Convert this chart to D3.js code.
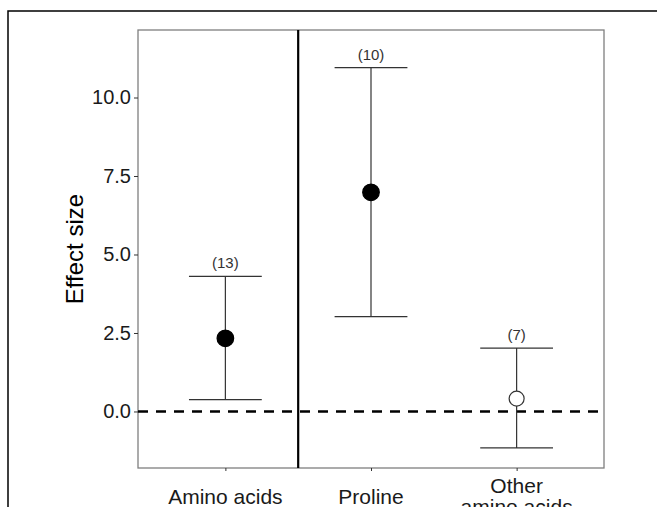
<!DOCTYPE html>
<html>
<head>
<meta charset="utf-8">
<script src="https://cdn.jsdelivr.net/npm/d3@7"></script>
<style>
  body { margin: 0; background: #fff; }
  text { font-family: "Liberation Sans", Arial, sans-serif; }
</style>
</head>
<body>
<svg id="chart" width="657" height="507"></svg>
<script>
// data
const categories = ["Amino acids", "Proline", "Other\namino acids"];
const means = [2.33, 6.98, 0.41];
const lower = [0.38, 3.02, -1.16];
const upper = [4.30, 10.95, 2.02];
const counts = ["(13)", "(10)", "(7)"];
const filled = [true, true, false];
const yTicks = [0, 2.5, 5, 7.5, 10];

const svg = d3.select("#chart");

// outer frame
svg.append("rect")
  .attr("x", 8).attr("y", 11)
  .attr("width", 700).attr("height", 600)
  .attr("fill", "none")
  .attr("stroke", "#000")
  .attr("stroke-width", 1.5);

const pLeft = 138, pRight = 604, pTop = 30, pBottom = 468;

// discrete positions 1..3 with ggplot-style 0.6 expansion
let xScale = d3.scaleLinear()
  .domain([0.4, 3.6])
  .range([pLeft, pRight]);

let yScale = d3.scaleLinear()
  .domain([-1.8, 12.15])
  .range([pBottom, pTop]);

const g = svg.append("g");

// panel border
g.append("rect")
  .attr("x", pLeft).attr("y", pTop)
  .attr("width", pRight - pLeft).attr("height", pBottom - pTop)
  .attr("fill", "none")
  .attr("stroke", "#7f7f7f")
  .attr("stroke-width", 1.3);

// y axis
let yAxis = d3.axisLeft(yScale)
  .tickValues(yTicks)
  .tickFormat(d3.format(".1f"))
  .tickSize(4)
  .tickPadding(3);

let yG = g.append("g").attr("transform", `translate(${pLeft},0)`).call(yAxis);
yG.select(".domain").remove();
yG.selectAll(".tick line").attr("stroke", "#333");
yG.selectAll(".tick text")
  .attr("font-size", 20)
  .attr("fill", "#1a1a1a")
  .style("font-family", "Liberation Sans, Arial, sans-serif");

// x axis ticks
let xAxis = d3.axisBottom(xScale)
  .tickValues([1, 2, 3])
  .tickSize(3)
  .tickFormat("");

let xG = g.append("g").attr("transform", `translate(0,${pBottom})`).call(xAxis);
xG.select(".domain").remove();
xG.selectAll(".tick line").attr("stroke", "#333");

// x labels (multi-line)
categories.forEach((c, i) => {
  let lines = c.split("\n");
  let t = g.append("text")
    .attr("x", xScale(i + 1))
    .attr("text-anchor", "middle")
    .attr("font-size", 21)
    .attr("fill", "#1a1a1a");
  let y0 = lines.length > 1 ? 493 : 504;
  lines.forEach((l, j) => {
    t.append("tspan")
      .attr("x", xScale(i + 1))
      .attr("y", y0 + j * 21)
      .text(l);
  });
});

// y title
g.append("text")
  .attr("transform", `translate(83,${(yScale(12.15) + yScale(-1.8)) / 2}) rotate(-90)`)
  .attr("text-anchor", "middle")
  .attr("font-size", 24)
  .attr("fill", "#000")
  .text("Effect size");

// dashed zero line
g.append("line")
  .attr("x1", pLeft).attr("x2", pRight)
  .attr("y1", yScale(0)).attr("y2", yScale(0))
  .attr("stroke", "#000")
  .attr("stroke-width", 2.5)
  .attr("stroke-dasharray", "10,8");

// separator between amino acids and the split
g.append("line")
  .attr("x1", xScale(1.5)).attr("x2", xScale(1.5))
  .attr("y1", pTop).attr("y2", pBottom)
  .attr("stroke", "#000")
  .attr("stroke-width", 2.2);

const capHalf = xScale(1.25) - xScale(1);

// error bars
categories.forEach((c, i) => {
  let x = xScale(i + 1);
  g.append("line")
    .attr("x1", x).attr("x2", x)
    .attr("y1", yScale(lower[i])).attr("y2", yScale(upper[i]))
    .attr("stroke", "#333").attr("stroke-width", 1.2);
  [lower[i], upper[i]].forEach(v => {
    g.append("line")
      .attr("x1", x - capHalf).attr("x2", x + capHalf)
      .attr("y1", yScale(v)).attr("y2", yScale(v))
      .attr("stroke", "#333").attr("stroke-width", 1.2);
  });
  g.append("text")
    .attr("x", x)
    .attr("y", yScale(upper[i]) - 8)
    .attr("text-anchor", "middle")
    .attr("font-size", 15)
    .attr("fill", "#333")
    .text(counts[i]);
});

// points
g.selectAll("circle.pt")
  .data(means)
  .join("circle")
  .attr("class", "pt")
  .attr("cx", (d, i) => xScale(i + 1))
  .attr("cy", d => yScale(d))
  .attr("r", (d, i) => filled[i] ? 8.3 : 7.5)
  .attr("fill", (d, i) => filled[i] ? "#000" : "#fff")
  .attr("stroke", (d, i) => filled[i] ? "#000" : "#333")
  .attr("stroke-width", 1.2);
</script>
</body>
</html>
